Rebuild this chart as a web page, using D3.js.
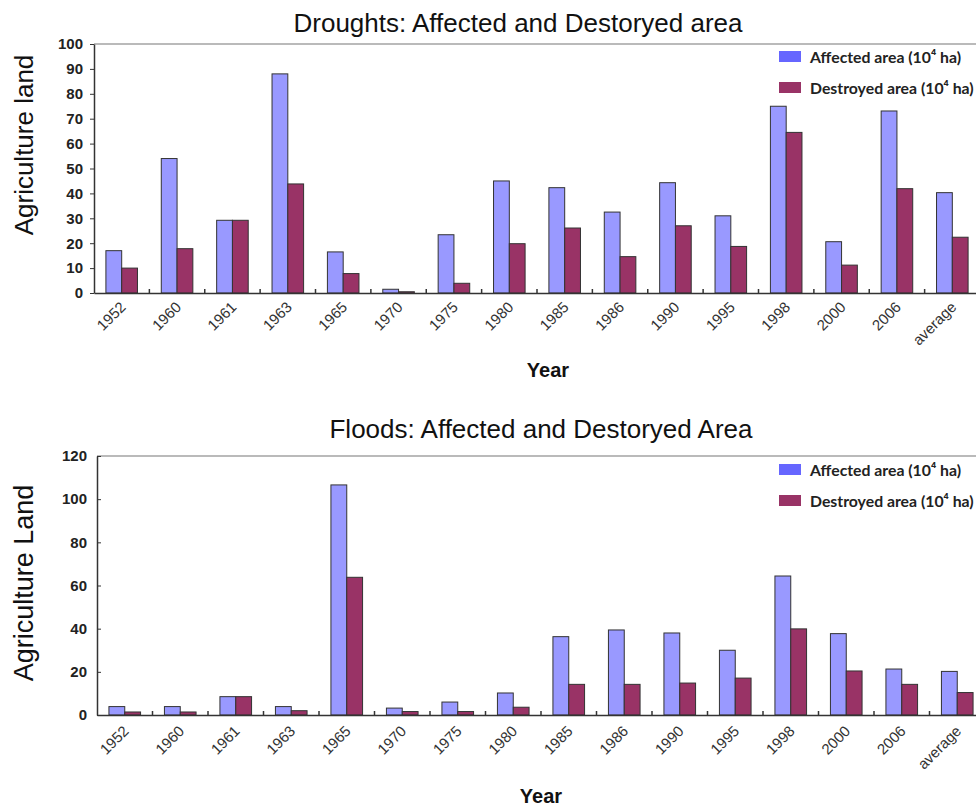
<!DOCTYPE html>
<html>
<head>
<meta charset="utf-8">
<script src="https://cdn.jsdelivr.net/npm/d3@7"></script>
<style>
  body { margin: 0; background: #fff; }
  svg { display: block; font-family: "Liberation Sans", Arial, sans-serif; }
</style>
</head>
<body>
<script>
(function (d3) {
  "use strict";

  /***** Data *****/
  var years = ["1952", "1960", "1961", "1963", "1965", "1970", "1975", "1980",
               "1985", "1986", "1990", "1995", "1998", "2000", "2006", "average"];
  var droughtAffected  = [17, 54, 29.2, 88, 16.5, 1.5, 23.4, 45, 42.3, 32.5, 44.3, 31, 75, 20.6, 73.1, 40.3];
  var droughtDestroyed = [10, 17.8, 29.2, 43.8, 7.8, 0.5, 3.9, 19.8, 26.1, 14.6, 27, 18.7, 64.5, 11.2, 41.9, 22.4];
  var floodAffected    = [3.9, 3.9, 8.5, 3.9, 106.6, 3.2, 6, 10.2, 36.3, 39.4, 38, 30, 64.4, 37.7, 21.3, 20.2];
  var floodDestroyed   = [1.4, 1.4, 8.5, 2, 63.8, 1.6, 1.6, 3.6, 14.2, 14.2, 14.8, 17.1, 39.9, 20.4, 14.2, 10.4];
  var seriesKeys = ["affected", "destroyed"];
  var legendLabels = ["Affected area (10\u2074 ha)", "Destroyed area (10\u2074 ha)"];
  var barColors = { affected: "#9999ff", destroyed: "#993366" };
  var swatchColors = { affected: "#6666ff", destroyed: "#993366" };

  var svg = d3.select("body").append("svg")
      .attr("width", 976)
      .attr("height", 808);

  function drawChart(cfg) {
    var rows = years.map(function (y, i) {
      return { year: y, affected: cfg.affected[i], destroyed: cfg.destroyed[i] };
    });

    var x0 = d3.scaleBand().domain(years).range([cfg.left, cfg.right]).padding(0);
    var x1 = d3.scaleBand().domain(seriesKeys)
        .range([x0.step() * 0.215, x0.step() * 0.785]).padding(0);
    var y = d3.scaleLinear().domain([0, cfg.yMax]).range([cfg.bottom, cfg.top]);

    var g = svg.append("g");

    // title
    g.append("text")
        .attr("x", cfg.titleX).attr("y", cfg.titleY)
        .attr("text-anchor", "middle")
        .style("font-size", "26px")
        .attr("fill", "#111")
        .text(cfg.title);

    // frame top line
    g.append("line")
        .attr("x1", cfg.left).attr("x2", cfg.right)
        .attr("y1", cfg.top).attr("y2", cfg.top)
        .attr("stroke", "#777").attr("stroke-width", 1.2);

    // bars
    g.selectAll("g.grp").data(rows).enter().append("g")
        .attr("transform", function (d) { return "translate(" + x0(d.year) + ",0)"; })
      .selectAll("rect")
        .data(function (d) { return seriesKeys.map(function (k) { return { key: k, value: d[k] }; }); })
        .enter().append("rect")
        .attr("x", function (d) { return x1(d.key); })
        .attr("width", x1.bandwidth())
        .attr("y", function (d) { return y(d.value); })
        .attr("height", function (d) { return cfg.bottom - y(d.value); })
        .attr("fill", function (d) { return barColors[d.key]; })
        .attr("stroke", "#333")
        .attr("stroke-width", 1);

    // y axis
    var yAxis = d3.axisLeft(y)
        .tickValues(d3.range(0, cfg.yMax + 1, cfg.yStep))
        .tickSizeInner(cfg.yTickInward ? -4 : 4)
        .tickSizeOuter(0)
        .tickPadding(cfg.yTickInward ? 10 : 7);
    var ya = g.append("g")
        .attr("transform", "translate(" + cfg.left + ",0)")
        .call(yAxis);
    ya.select(".domain").attr("stroke", "#333").attr("stroke-width", 1.5);
    ya.selectAll(".tick line").attr("stroke", "#333");
    ya.selectAll(".tick text")
        .style("font-size", "15px")
        .style("font-weight", "bold")
        .attr("fill", "#222");

    // x axis
    var xAxis = d3.axisBottom(x0).tickSize(0).tickSizeOuter(0);
    var xa = g.append("g")
        .attr("transform", "translate(0," + cfg.bottom + ")")
        .call(xAxis);
    xa.select(".domain").attr("stroke", "#333").attr("stroke-width", 1.5);
    xa.selectAll(".tick text")
        .attr("text-anchor", "end")
        .attr("dy", null)
        .attr("y", null)
        .attr("transform", "translate(5," + cfg.labelDrop + ") rotate(-45)")
        .style("font-size", "15px")
        .attr("fill", "#333");

    // separator ticks between categories
    g.selectAll("line.sep").data(years.slice(1)).enter().append("line")
        .attr("x1", function (d) { return x0(d); })
        .attr("x2", function (d) { return x0(d); })
        .attr("y1", cfg.bottom).attr("y2", cfg.bottom - 4)
        .attr("stroke", "#333").attr("stroke-width", 1.5);

    // axis titles
    g.append("text")
        .attr("transform", "translate(33," + cfg.yTitleY + ") rotate(-90)")
        .attr("text-anchor", "middle")
        .style("font-size", cfg.yTitleSize + "px")
        .attr("fill", "#111")
        .text(cfg.yTitle);

    g.append("text")
        .attr("x", cfg.xTitleX).attr("y", cfg.xTitleY)
        .attr("text-anchor", "middle")
        .style("font-size", "20px")
        .style("font-weight", "bold")
        .attr("fill", "#111")
        .text("Year");

    // legend
    var lg = g.selectAll("g.leg").data(seriesKeys).enter().append("g")
        .attr("transform", function (d, i) { return "translate(779," + (cfg.legendY + i * 31) + ")"; });
    lg.append("rect")
        .attr("x", 0).attr("y", -6)
        .attr("width", 22).attr("height", 11)
        .attr("fill", function (d) { return swatchColors[d]; });
    lg.append("text")
        .attr("x", 31).attr("y", 0)
        .attr("dy", "0.35em")
        .style("font-family", "Lato, 'Open Sans', sans-serif")
        .style("font-size", "15.8px")
        .style("font-weight", "bold")
        .attr("fill", "#222")
        .text(function (d, i) { return legendLabels[i]; });
  }

  drawChart({
    title: "Droughts: Affected and Destoryed area",
    titleX: 518, titleY: 32,
    affected: droughtAffected, destroyed: droughtDestroyed,
    left: 94, right: 980, top: 44, bottom: 293,
    yMax: 100, yStep: 10, yTickInward: false,
    labelDrop: 15,
    yTitle: "Agriculture land", yTitleY: 145, yTitleSize: 26,
    xTitleX: 548, xTitleY: 377,
    legendY: 57
  });

  drawChart({
    title: "Floods: Affected and Destoryed Area",
    titleX: 541, titleY: 438,
    affected: floodAffected, destroyed: floodDestroyed,
    left: 97, right: 985, top: 456, bottom: 715,
    yMax: 120, yStep: 20, yTickInward: true,
    labelDrop: 17,
    yTitle: "Agriculture  Land", yTitleY: 583, yTitleSize: 27,
    xTitleX: 541, xTitleY: 803,
    legendY: 470
  });

})(d3);
</script>
</body>
</html>
